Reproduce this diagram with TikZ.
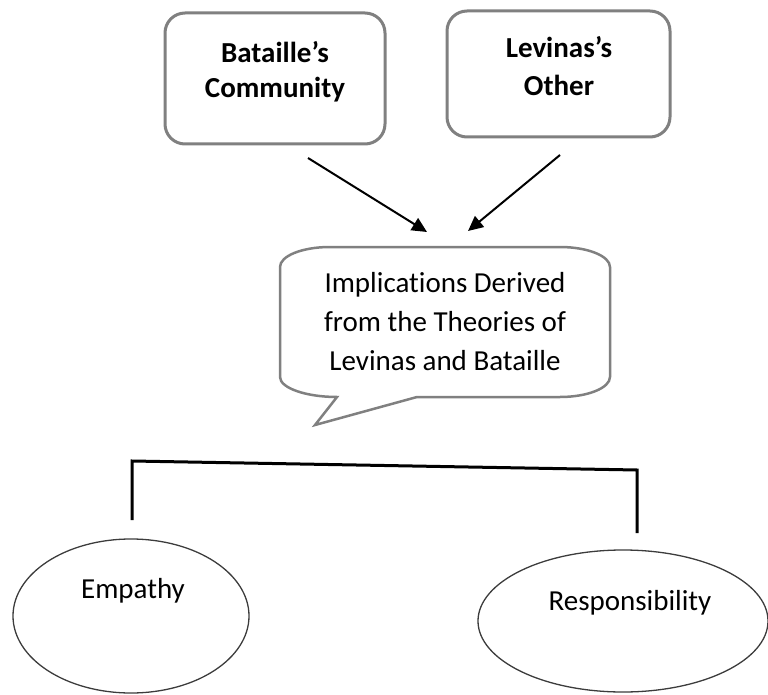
\documentclass[tikz,border=0pt]{standalone}
\usepackage{fontspec}
\setmainfont{Carlito}[Ligatures={NoCommon,NoContextual}]
\usetikzlibrary{arrows.meta,shapes.geometric}
\definecolor{boxgray}{RGB}{128,128,128}
\definecolor{ellgray}{RGB}{60,60,60}
\begin{document}
\begin{tikzpicture}[x=1pt,y=-1pt,
  topbox/.style={draw=boxgray,line width=3pt,rounded corners=20pt,inner sep=0pt,fill=white},
  boldtext/.style={align=center,font=\bfseries\fontsize{29}{35}\selectfont,inner sep=0pt},
  plaintext/.style={align=center,font=\fontsize{29}{39}\selectfont,inner sep=0pt},
  leafoval/.style={draw=ellgray,line width=1.3pt,ellipse,inner sep=0pt},
  arrowline/.style={line width=2pt,-{Triangle[length=15pt,width=14pt]}},
  bracketline/.style={line width=3pt,line join=miter,line cap=butt},
  calloutline/.style={draw=boxgray,line width=2.5pt,line join=miter}
]
\useasboundingbox (0,0) rectangle (768,695);

% top boxes
\node[topbox,minimum width=220pt,minimum height=131pt] (bat) at (275,78.5) {};
\node[boldtext] (battext) at (275,72) {Bataille’s\\Community};
\node[topbox,minimum width=223pt,minimum height=126pt] (lev) at (558.5,74) {};
\node[boldtext,font=\bfseries\fontsize{29}{38}\selectfont] (levtext) at (559,66.5) {Levinas’s\\Other};

% callout
\draw[calloutline] (330,247) -- (560,247)
  .. controls (587.6,247) and (610,256) .. (610,267) -- (610,377)
  .. controls (610,388) and (587.6,397) .. (560,397) -- (417,397)
  -- (315,425) -- (337,397)
  .. controls (306,397) and (280,388) .. (280,377) -- (280,267)
  .. controls (280,256) and (302,247) .. (330,247) -- cycle;
\node[plaintext] (impl) at (445,321.7) {Implications Derived\\from the Theories of\\Levinas and Bataille};

% arrows
\coordinate (a1s) at (308,158);
\coordinate (a1e) at (427,232);
\coordinate (a2s) at (560,155);
\coordinate (a2e) at (468,231);
\draw[arrowline] (a1s) -- (a1e);
\draw[arrowline] (a2s) -- (a2e);

% bracket
\coordinate (bl) at (132,520);
\coordinate (blt) at (132,461);
\coordinate (brt) at (637,470);
\coordinate (br) at (637,533);
\draw[bracketline] (bl) -- (blt) -- (brt) -- (br);

% leaves
\node[leafoval,minimum width=236pt,minimum height=154pt] (emp) at (131,616) {};
\node[plaintext,anchor=base] (emptext) at (133,598) {Empathy};
\node[leafoval,minimum width=290pt,minimum height=142pt] (resp) at (623,621) {};
\node[plaintext,anchor=base] (resptext) at (630,610) {Responsibility};
\end{tikzpicture}
\end{document}
